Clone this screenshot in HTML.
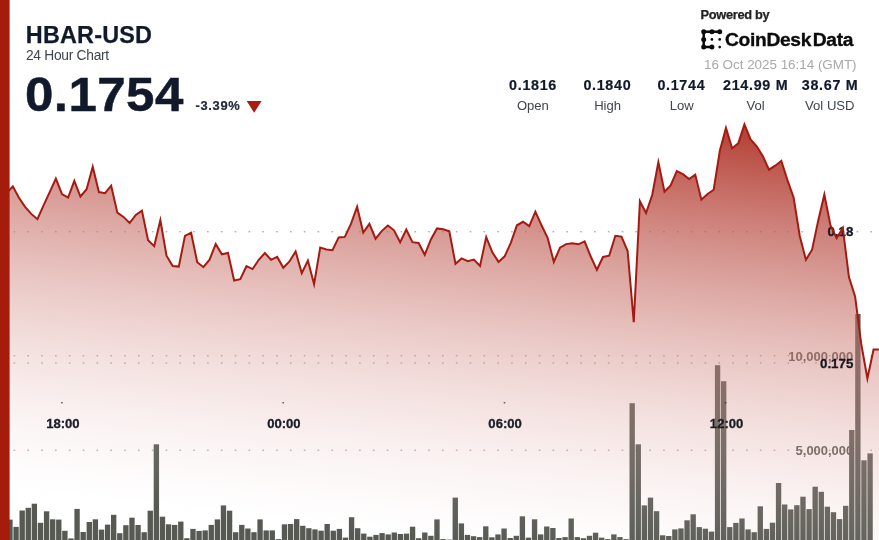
<!DOCTYPE html>
<html lang="en"><head><meta charset="utf-8"><title>HBAR-USD 24 Hour Chart</title>
<style>
html,body{margin:0;padding:0;background:#fff;}
body{width:879px;height:540px;overflow:hidden;position:relative;font-family:"Liberation Sans",sans-serif;color:#111a2b;}
#chart{position:absolute;left:0;top:0;width:879px;height:540px;}
.t{position:absolute;white-space:nowrap;line-height:1;}
.b{font-weight:bold;}
.ctr{transform:translateX(-50%);text-align:center;}
.rt{transform:translateX(-100%);text-align:right;}
#sym{left:25.8px;top:23.7px;font-size:23.4px;letter-spacing:0.2px;-webkit-text-stroke:0.25px #111a2b;}
#sub{left:25.9px;top:48.5px;font-size:13.8px;letter-spacing:-0.28px;color:#3f454d;}
#price{left:25.4px;top:70.0px;font-size:48.2px;letter-spacing:0.4px;-webkit-text-stroke:0.5px #111a2b;transform:scaleX(1.06);transform-origin:0 0;}
#chg{left:195.6px;top:99.9px;font-size:12.9px;letter-spacing:0.65px;color:#222a38;-webkit-text-stroke:0.2px #222a38;}
#pw{left:700.5px;top:9.0px;font-size:12.8px;color:#222;letter-spacing:-0.3px;-webkit-text-stroke:0.25px #222;}
#cd{left:725.0px;top:29.6px;font-size:19.2px;color:#0b0b0b;letter-spacing:-0.3px;-webkit-text-stroke:0.35px #0b0b0b;}
#cd span{margin-left:1.6px;}
#dt{left:704.0px;top:57.5px;font-size:13.4px;color:#a9a9a9;}
.sv{top:78.0px;font-size:14.3px;letter-spacing:0.7px;text-indent:0.7px;-webkit-text-stroke:0.2px #111a2b;}
.sl{top:98.8px;font-size:13.1px;color:#3f454d;}
.xl{top:417.3px;font-size:13.4px;color:#1d2430;}
.pl{font-size:12.6px;color:#111a2b;}
.vl{font-size:12.4px;color:rgba(70,55,50,0.62);}
</style></head><body>
<svg id="chart" width="879" height="540" viewBox="0 0 879 540">
<defs>
<linearGradient id="g" gradientUnits="userSpaceOnUse" x1="752" y1="115" x2="702" y2="569.5">
<stop offset="0" stop-color="rgb(173,46,34)" stop-opacity="0.97"/>
<stop offset="1" stop-color="rgb(238,209,207)" stop-opacity="0"/>
</linearGradient>
</defs>
<g id="grid" stroke="#8d8d93" stroke-width="1" stroke-dasharray="1.6 12.22" fill="none"><line x1="13.6" x2="879" y1="231.8" y2="231.8"/><line x1="13.6" x2="879" y1="355.8" y2="355.8"/><line x1="13.6" x2="879" y1="363.0" y2="363.0"/><line x1="13.6" x2="879" y1="450.2" y2="450.2"/></g>
<g id="vlabels" font-family="Liberation Sans, sans-serif" font-size="13.3" font-weight="bold" fill="#565a53" text-anchor="end">
<text x="853.2" y="360.6" textLength="65" lengthAdjust="spacingAndGlyphs">10,000,000</text>
<text x="853.2" y="455.4" textLength="57.6" lengthAdjust="spacingAndGlyphs">5,000,000</text>
</g>
<g id="bars" fill="#565a53"><rect x="7.30" y="519.60" width="5.35" height="20.40"/><rect x="13.40" y="526.90" width="5.35" height="13.10"/><rect x="19.50" y="510.50" width="5.35" height="29.50"/><rect x="25.60" y="507.80" width="5.35" height="32.20"/><rect x="31.70" y="503.70" width="5.35" height="36.30"/><rect x="37.80" y="522.80" width="5.35" height="17.20"/><rect x="43.90" y="511.30" width="5.35" height="28.70"/><rect x="50.00" y="519.30" width="5.35" height="20.70"/><rect x="56.10" y="519.60" width="5.35" height="20.40"/><rect x="62.20" y="530.80" width="5.35" height="9.20"/><rect x="68.30" y="538.40" width="5.35" height="1.60"/><rect x="74.40" y="508.90" width="5.35" height="31.10"/><rect x="80.50" y="532.00" width="5.35" height="8.00"/><rect x="86.60" y="522.00" width="5.35" height="18.00"/><rect x="92.70" y="519.30" width="5.35" height="20.70"/><rect x="98.80" y="529.60" width="5.35" height="10.40"/><rect x="104.90" y="524.60" width="5.35" height="15.40"/><rect x="111.00" y="514.80" width="5.35" height="25.20"/><rect x="117.10" y="533.20" width="5.35" height="6.80"/><rect x="123.20" y="525.20" width="5.35" height="14.80"/><rect x="129.30" y="517.70" width="5.35" height="22.30"/><rect x="135.40" y="525.00" width="5.35" height="15.00"/><rect x="141.50" y="532.20" width="5.35" height="7.80"/><rect x="147.60" y="510.70" width="5.35" height="29.30"/><rect x="153.70" y="444.30" width="5.35" height="95.70"/><rect x="159.80" y="516.70" width="5.35" height="23.30"/><rect x="165.90" y="524.30" width="5.35" height="15.70"/><rect x="172.00" y="524.90" width="5.35" height="15.10"/><rect x="178.10" y="521.60" width="5.35" height="18.40"/><rect x="184.20" y="538.20" width="5.35" height="1.80"/><rect x="190.30" y="528.90" width="5.35" height="11.10"/><rect x="196.40" y="530.90" width="5.35" height="9.10"/><rect x="202.50" y="530.40" width="5.35" height="9.60"/><rect x="208.60" y="524.90" width="5.35" height="15.10"/><rect x="214.70" y="519.40" width="5.35" height="20.60"/><rect x="220.80" y="505.40" width="5.35" height="34.60"/><rect x="226.90" y="510.70" width="5.35" height="29.30"/><rect x="233.00" y="532.20" width="5.35" height="7.80"/><rect x="239.10" y="524.90" width="5.35" height="15.10"/><rect x="245.20" y="528.50" width="5.35" height="11.50"/><rect x="251.30" y="532.20" width="5.35" height="7.80"/><rect x="257.40" y="519.40" width="5.35" height="20.60"/><rect x="263.50" y="530.40" width="5.35" height="9.60"/><rect x="269.60" y="530.40" width="5.35" height="9.60"/><rect x="275.70" y="539.10" width="5.35" height="0.90"/><rect x="281.80" y="524.30" width="5.35" height="15.70"/><rect x="287.90" y="524.00" width="5.35" height="16.00"/><rect x="294.00" y="519.10" width="5.35" height="20.90"/><rect x="300.10" y="525.80" width="5.35" height="14.20"/><rect x="306.20" y="528.20" width="5.35" height="11.80"/><rect x="312.30" y="529.40" width="5.35" height="10.60"/><rect x="318.40" y="530.70" width="5.35" height="9.30"/><rect x="324.50" y="524.00" width="5.35" height="16.00"/><rect x="330.60" y="530.70" width="5.35" height="9.30"/><rect x="336.70" y="528.90" width="5.35" height="11.10"/><rect x="342.80" y="537.60" width="5.35" height="2.40"/><rect x="348.90" y="517.20" width="5.35" height="22.80"/><rect x="355.00" y="528.20" width="5.35" height="11.80"/><rect x="361.10" y="533.60" width="5.35" height="6.40"/><rect x="367.20" y="536.70" width="5.35" height="3.30"/><rect x="373.30" y="534.90" width="5.35" height="5.10"/><rect x="379.40" y="533.10" width="5.35" height="6.90"/><rect x="385.50" y="534.40" width="5.35" height="5.60"/><rect x="391.60" y="532.50" width="5.35" height="7.50"/><rect x="397.70" y="534.00" width="5.35" height="6.00"/><rect x="403.80" y="533.60" width="5.35" height="6.40"/><rect x="409.90" y="526.70" width="5.35" height="13.30"/><rect x="416.00" y="538.20" width="5.35" height="1.80"/><rect x="422.10" y="532.50" width="5.35" height="7.50"/><rect x="428.20" y="535.80" width="5.35" height="4.20"/><rect x="434.30" y="519.40" width="5.35" height="20.60"/><rect x="440.40" y="539.10" width="5.35" height="0.90"/><rect x="446.50" y="539.60" width="5.35" height="0.40"/><rect x="452.60" y="497.60" width="5.35" height="42.40"/><rect x="458.70" y="523.40" width="5.35" height="16.60"/><rect x="464.80" y="534.90" width="5.35" height="5.10"/><rect x="470.90" y="536.20" width="5.35" height="3.80"/><rect x="477.00" y="537.10" width="5.35" height="2.90"/><rect x="483.10" y="526.30" width="5.35" height="13.70"/><rect x="489.20" y="537.30" width="5.35" height="2.70"/><rect x="495.30" y="534.40" width="5.35" height="5.60"/><rect x="501.40" y="528.50" width="5.35" height="11.50"/><rect x="507.50" y="538.00" width="5.35" height="2.00"/><rect x="513.60" y="535.80" width="5.35" height="4.20"/><rect x="519.70" y="516.30" width="5.35" height="23.70"/><rect x="525.80" y="537.60" width="5.35" height="2.40"/><rect x="531.90" y="519.30" width="5.35" height="20.70"/><rect x="538.00" y="534.40" width="5.35" height="5.60"/><rect x="544.10" y="526.50" width="5.35" height="13.50"/><rect x="550.20" y="528.00" width="5.35" height="12.00"/><rect x="556.30" y="538.00" width="5.35" height="2.00"/><rect x="562.40" y="537.10" width="5.35" height="2.90"/><rect x="568.50" y="518.50" width="5.35" height="21.50"/><rect x="574.60" y="537.10" width="5.35" height="2.90"/><rect x="580.70" y="538.20" width="5.35" height="1.80"/><rect x="586.80" y="535.80" width="5.35" height="4.20"/><rect x="592.90" y="532.70" width="5.35" height="7.30"/><rect x="599.00" y="537.60" width="5.35" height="2.40"/><rect x="605.10" y="539.10" width="5.35" height="0.90"/><rect x="611.20" y="534.40" width="5.35" height="5.60"/><rect x="617.30" y="537.10" width="5.35" height="2.90"/><rect x="623.40" y="539.10" width="5.35" height="0.90"/><rect x="629.50" y="403.20" width="5.35" height="136.80"/><rect x="635.60" y="444.30" width="5.35" height="95.70"/><rect x="641.70" y="505.40" width="5.35" height="34.60"/><rect x="647.80" y="497.60" width="5.35" height="42.40"/><rect x="653.90" y="511.20" width="5.35" height="28.80"/><rect x="660.00" y="535.30" width="5.35" height="4.70"/><rect x="666.10" y="536.00" width="5.35" height="4.00"/><rect x="672.20" y="529.40" width="5.35" height="10.60"/><rect x="678.30" y="528.40" width="5.35" height="11.60"/><rect x="684.40" y="520.30" width="5.35" height="19.70"/><rect x="690.50" y="514.30" width="5.35" height="25.70"/><rect x="696.60" y="527.10" width="5.35" height="12.90"/><rect x="702.70" y="528.70" width="5.35" height="11.30"/><rect x="708.80" y="531.60" width="5.35" height="8.40"/><rect x="714.90" y="365.20" width="5.35" height="174.80"/><rect x="721.00" y="381.20" width="5.35" height="158.80"/><rect x="727.10" y="527.10" width="5.35" height="12.90"/><rect x="733.20" y="522.90" width="5.35" height="17.10"/><rect x="739.30" y="518.50" width="5.35" height="21.50"/><rect x="745.40" y="529.40" width="5.35" height="10.60"/><rect x="751.50" y="532.20" width="5.35" height="7.80"/><rect x="757.60" y="506.30" width="5.35" height="33.70"/><rect x="763.70" y="528.90" width="5.35" height="11.10"/><rect x="769.80" y="522.70" width="5.35" height="17.30"/><rect x="775.90" y="483.00" width="5.35" height="57.00"/><rect x="782.00" y="504.50" width="5.35" height="35.50"/><rect x="788.10" y="509.40" width="5.35" height="30.60"/><rect x="794.20" y="505.20" width="5.35" height="34.80"/><rect x="800.30" y="496.70" width="5.35" height="43.30"/><rect x="806.40" y="509.10" width="5.35" height="30.90"/><rect x="812.50" y="486.70" width="5.35" height="53.30"/><rect x="818.60" y="491.80" width="5.35" height="48.20"/><rect x="824.70" y="506.70" width="5.35" height="33.30"/><rect x="830.80" y="512.20" width="5.35" height="27.80"/><rect x="836.90" y="519.10" width="5.35" height="20.90"/><rect x="843.00" y="505.80" width="5.35" height="34.20"/><rect x="849.10" y="430.00" width="5.35" height="110.00"/><rect x="855.20" y="314.00" width="5.35" height="226.00"/><rect x="861.30" y="460.30" width="5.35" height="79.70"/><rect x="867.40" y="453.40" width="5.35" height="86.60"/></g>
<path d="M6.67,193.00 L12.82,186.40 L18.96,197.80 L25.11,206.80 L31.26,213.90 L37.41,219.20 L43.56,205.30 L49.70,192.10 L55.85,178.60 L62.00,194.00 L68.15,197.50 L74.30,180.80 L80.44,196.50 L86.59,189.20 L92.74,166.68 L98.89,192.10 L105.04,193.20 L111.18,185.70 L117.33,212.60 L123.48,216.90 L129.63,223.00 L135.78,215.00 L141.92,210.60 L148.07,240.20 L154.22,246.10 L160.37,220.23 L166.52,255.70 L172.66,266.10 L178.81,266.60 L184.96,235.80 L191.11,232.70 L197.26,262.30 L203.40,267.20 L209.55,259.70 L215.70,244.00 L221.85,254.30 L228.00,253.00 L234.14,280.50 L240.29,279.20 L246.44,266.20 L252.59,269.10 L258.74,259.80 L264.88,253.10 L271.03,259.80 L277.18,256.90 L283.33,267.80 L289.48,261.50 L295.62,251.40 L301.77,273.30 L307.92,260.56 L314.07,284.20 L320.22,247.50 L326.36,249.40 L332.51,250.20 L338.66,237.40 L344.81,236.90 L350.96,223.90 L357.10,206.70 L363.25,232.60 L369.40,223.90 L375.55,238.70 L381.70,231.10 L387.84,225.50 L393.99,230.30 L400.14,242.20 L406.29,229.50 L412.44,242.20 L418.58,243.00 L424.73,254.80 L430.88,239.50 L437.03,228.40 L443.18,229.20 L449.32,231.30 L455.47,263.80 L461.62,258.40 L467.77,261.10 L473.92,259.50 L480.06,265.90 L486.21,237.08 L492.36,252.30 L498.51,261.90 L504.66,256.30 L510.80,242.80 L516.95,225.30 L523.10,221.80 L529.25,226.10 L535.40,211.70 L541.54,225.30 L547.69,238.00 L553.84,262.00 L559.99,247.70 L566.14,244.10 L572.28,243.30 L578.43,244.30 L584.58,241.40 L590.73,256.50 L596.88,269.80 L603.02,257.00 L609.17,255.70 L615.32,235.80 L621.47,236.60 L627.62,251.00 L633.76,322.20 L639.91,201.28 L646.06,213.00 L652.21,195.00 L658.36,162.16 L664.50,191.80 L670.65,185.40 L676.80,171.10 L682.95,174.20 L689.10,179.00 L695.24,174.60 L701.39,199.70 L707.54,194.00 L713.69,189.70 L719.84,150.80 L725.98,127.93 L732.13,148.20 L738.28,143.40 L744.43,124.38 L750.58,139.50 L756.72,146.30 L762.87,156.20 L769.02,169.70 L775.17,165.70 L781.32,161.00 L787.46,180.10 L793.61,197.50 L799.76,236.00 L805.91,259.80 L812.06,249.70 L818.20,220.80 L824.35,194.53 L830.50,225.40 L836.65,238.20 L842.80,228.05 L848.94,277.00 L855.09,296.40 L861.24,344.00 L867.39,378.50 L873.54,349.50 L879.68,349.50 L883.00,349.50 L883,540 L6.67,540 Z" fill="url(#g)"/>
<g id="plabels" font-family="Liberation Sans, sans-serif" font-size="13.3" font-weight="bold" fill="#141824" stroke="#141824" stroke-width="0.3" text-anchor="end">
<text x="853.3" y="236.2">0.18</text>
<text x="853.3" y="367.8">0.175</text>
</g>
<path d="M6.67,193.00 L12.82,186.40 L18.96,197.80 L25.11,206.80 L31.26,213.90 L37.41,219.20 L43.56,205.30 L49.70,192.10 L55.85,178.60 L62.00,194.00 L68.15,197.50 L74.30,180.80 L80.44,196.50 L86.59,189.20 L92.74,166.68 L98.89,192.10 L105.04,193.20 L111.18,185.70 L117.33,212.60 L123.48,216.90 L129.63,223.00 L135.78,215.00 L141.92,210.60 L148.07,240.20 L154.22,246.10 L160.37,220.23 L166.52,255.70 L172.66,266.10 L178.81,266.60 L184.96,235.80 L191.11,232.70 L197.26,262.30 L203.40,267.20 L209.55,259.70 L215.70,244.00 L221.85,254.30 L228.00,253.00 L234.14,280.50 L240.29,279.20 L246.44,266.20 L252.59,269.10 L258.74,259.80 L264.88,253.10 L271.03,259.80 L277.18,256.90 L283.33,267.80 L289.48,261.50 L295.62,251.40 L301.77,273.30 L307.92,260.56 L314.07,284.20 L320.22,247.50 L326.36,249.40 L332.51,250.20 L338.66,237.40 L344.81,236.90 L350.96,223.90 L357.10,206.70 L363.25,232.60 L369.40,223.90 L375.55,238.70 L381.70,231.10 L387.84,225.50 L393.99,230.30 L400.14,242.20 L406.29,229.50 L412.44,242.20 L418.58,243.00 L424.73,254.80 L430.88,239.50 L437.03,228.40 L443.18,229.20 L449.32,231.30 L455.47,263.80 L461.62,258.40 L467.77,261.10 L473.92,259.50 L480.06,265.90 L486.21,237.08 L492.36,252.30 L498.51,261.90 L504.66,256.30 L510.80,242.80 L516.95,225.30 L523.10,221.80 L529.25,226.10 L535.40,211.70 L541.54,225.30 L547.69,238.00 L553.84,262.00 L559.99,247.70 L566.14,244.10 L572.28,243.30 L578.43,244.30 L584.58,241.40 L590.73,256.50 L596.88,269.80 L603.02,257.00 L609.17,255.70 L615.32,235.80 L621.47,236.60 L627.62,251.00 L633.76,322.20 L639.91,201.28 L646.06,213.00 L652.21,195.00 L658.36,162.16 L664.50,191.80 L670.65,185.40 L676.80,171.10 L682.95,174.20 L689.10,179.00 L695.24,174.60 L701.39,199.70 L707.54,194.00 L713.69,189.70 L719.84,150.80 L725.98,127.93 L732.13,148.20 L738.28,143.40 L744.43,124.38 L750.58,139.50 L756.72,146.30 L762.87,156.20 L769.02,169.70 L775.17,165.70 L781.32,161.00 L787.46,180.10 L793.61,197.50 L799.76,236.00 L805.91,259.80 L812.06,249.70 L818.20,220.80 L824.35,194.53 L830.50,225.40 L836.65,238.20 L842.80,228.05 L848.94,277.00 L855.09,296.40 L861.24,344.00 L867.39,378.50 L873.54,349.50 L879.68,349.50 L883.00,349.50" fill="none" stroke="#a41b12" stroke-width="2" stroke-linejoin="miter" stroke-miterlimit="10"/>
<g id="ticks" fill="#1d2430"><rect x="61.1" y="402.3" width="1.6" height="1"/><rect x="282.4" y="402.3" width="1.6" height="1"/><rect x="503.7" y="402.3" width="1.6" height="1"/><rect x="724.8" y="402.3" width="1.6" height="1"/></g>
<g id="xlabels" font-family="Liberation Sans, sans-serif" font-size="13.1" font-weight="bold" fill="#1a1d26" stroke="#1a1d26" stroke-width="0.3" text-anchor="middle">
<text x="62.9" y="428.3">18:00</text>
<text x="283.9" y="428.3">00:00</text>
<text x="505.1" y="428.3">06:00</text>
<text x="726.6" y="428.3">12:00</text>
</g>
<rect x="0" y="0" width="9.6" height="540" fill="#a51b0c"/>
<polygon points="246.7,100.9 261.6,100.9 254.15,112.8" fill="#aa1b0e"/>
<g id="logo" fill="#0b0b0b" stroke="#0b0b0b">
<path d="M719.7,31.7 L703.7,31.7 L703.7,47.1 L711.9,47.1" fill="none" stroke-width="2.5" stroke-linecap="round" stroke-linejoin="round"/>
<g stroke="none">
<circle cx="703.7" cy="31.7" r="2.5"/><circle cx="711.9" cy="31.7" r="2.5"/><circle cx="719.7" cy="31.7" r="2.5"/>
<circle cx="703.7" cy="39.4" r="2.5"/><circle cx="703.7" cy="47.1" r="2.5"/><circle cx="711.9" cy="47.1" r="2.5"/>
<circle cx="711.9" cy="39.4" r="1.35"/><circle cx="719.7" cy="39.4" r="1.35"/><circle cx="719.7" cy="47.1" r="1.35"/>
</g></g>
</svg>
<div class="t b" id="sym">HBAR-USD</div>
<div class="t" id="sub">24 Hour Chart</div>
<div class="t b" id="price">0.1754</div>
<div class="t b" id="chg">-3.39%</div>
<div class="t b" id="pw">Powered by</div>
<div class="t b" id="cd">CoinDesk<span>Data</span></div>
<div class="t" id="dt">16 Oct 2025 16:14 (GMT)</div>
<div class="t b sv ctr" style="left:532.7px">0.1816</div>
<div class="t b sv ctr" style="left:607px">0.1840</div>
<div class="t b sv ctr" style="left:681px">0.1744</div>
<div class="t b sv ctr" style="left:755.3px">214.99 M</div>
<div class="t b sv ctr" style="left:829.7px">38.67 M</div>
<div class="t sl ctr" style="left:532.9px">Open</div>
<div class="t sl ctr" style="left:607.6px">High</div>
<div class="t sl ctr" style="left:681.7px">Low</div>
<div class="t sl ctr" style="left:755.6px">Vol</div>
<div class="t sl ctr" style="left:829.8px">Vol USD</div>
</body></html>
